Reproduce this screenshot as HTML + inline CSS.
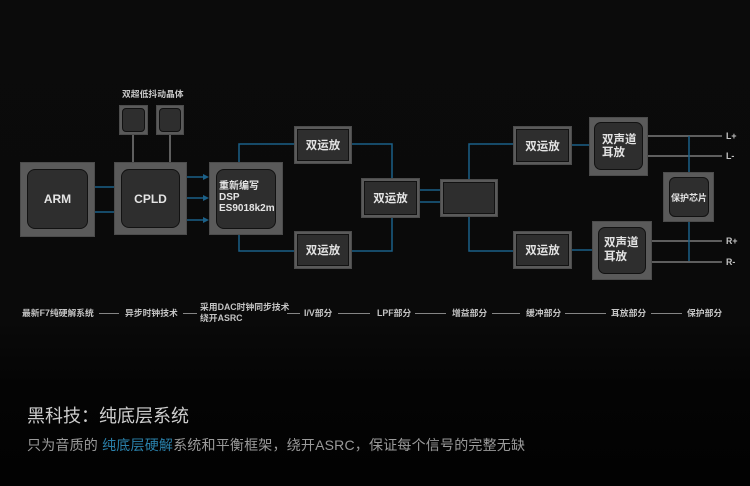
<!DOCTYPE html>
<html><head><meta charset="utf-8">
<style>
html,body{margin:0;padding:0;}
body{width:750px;height:486px;overflow:hidden;position:relative;
background:linear-gradient(#0b0b0b 0px,#0a0a0a 320px,#040404 385px,#020202 486px);
font-family:"Liberation Sans","Noto Sans CJK SC",sans-serif;}
.o{position:absolute;background:#5a5a5a;box-shadow:inset 0 0 0 1px #4c4c4c;}
.i{position:absolute;background:#2e2e2e;border:1px solid #121212;box-sizing:border-box;
display:flex;align-items:center;justify-content:center;color:#e4e4e4;font-weight:bold;white-space:nowrap;}
.t{position:absolute;white-space:nowrap;font-weight:bold;color:#c4c4c4;font-size:8.8px;line-height:12px;}
.w{color:#e4e4e4;}
svg{position:absolute;left:0;top:0;}
</style></head><body>

<svg width="750" height="486" viewBox="0 0 750 486">
<g stroke="#7a7a7a" stroke-width="1.5" fill="none">
<line x1="133" y1="135" x2="133" y2="162"/>
<line x1="170" y1="135" x2="170" y2="162"/>
<line x1="648" y1="136" x2="722" y2="136"/>
<line x1="648" y1="156" x2="722" y2="156"/>
<line x1="652" y1="241" x2="722" y2="241"/>
<line x1="652" y1="262" x2="722" y2="262"/>
</g>
<g stroke="#1b6088" stroke-width="1.5" fill="none">
<line x1="95" y1="187" x2="114" y2="187"/>
<line x1="95" y1="212" x2="114" y2="212"/>
<line x1="187" y1="177" x2="204" y2="177"/>
<line x1="187" y1="198" x2="204" y2="198"/>
<line x1="187" y1="220" x2="204" y2="220"/>
<polyline points="239,162 239,144 294,144"/>
<polyline points="239,235 239,251 294,251"/>
<polyline points="352,144 392,144 392,178"/>
<polyline points="352,251 392,251 392,218"/>
<line x1="420" y1="190" x2="440" y2="190"/>
<line x1="420" y1="202" x2="440" y2="202"/>
<polyline points="469,179 469,144 513,144"/>
<polyline points="469,217 469,251 513,251"/>
<line x1="572" y1="145" x2="589" y2="145"/>
<line x1="572" y1="250" x2="592" y2="250"/>
<line x1="689" y1="136" x2="689" y2="172"/>
<line x1="689" y1="222" x2="689" y2="261"/>
</g>
<g fill="#1b6088">
<polygon points="203,174 209,177 203,180"/>
<polygon points="203,195 209,198 203,201"/>
<polygon points="203,217 209,220 203,223"/>
</g>
<g stroke="#858585" stroke-width="1">
<line x1="99" y1="313.5" x2="119" y2="313.5"/>
<line x1="183" y1="313.5" x2="197" y2="313.5"/>
<line x1="287" y1="313.5" x2="300" y2="313.5"/>
<line x1="338" y1="313.5" x2="370" y2="313.5"/>
<line x1="415" y1="313.5" x2="446" y2="313.5"/>
<line x1="492" y1="313.5" x2="520" y2="313.5"/>
<line x1="565" y1="313.5" x2="606" y2="313.5"/>
<line x1="651" y1="313.5" x2="682" y2="313.5"/>
</g>
</svg>

<!-- crystal label -->
<div class="t" style="left:122px;top:88px;color:#c8c8c8;">双超低抖动晶体</div>
<!-- crystals -->
<div class="o" style="left:119px;top:105px;width:29px;height:30px;"></div>
<div class="i" style="left:122px;top:108px;width:23px;height:24px;border-radius:4px;border:1.5px solid #111;"></div>
<div class="o" style="left:156px;top:105px;width:28px;height:30px;"></div>
<div class="i" style="left:159px;top:108px;width:22px;height:24px;border-radius:4px;border:1.5px solid #111;"></div>

<!-- ARM -->
<div class="o" style="left:20px;top:162px;width:75px;height:75px;"></div>
<div class="i" style="left:27px;top:169px;width:61px;height:60px;border-radius:8px;font-size:12px;">ARM</div>
<!-- CPLD -->
<div class="o" style="left:114px;top:162px;width:73px;height:73px;"></div>
<div class="i" style="left:121px;top:169px;width:59px;height:59px;border-radius:8px;font-size:12px;">CPLD</div>
<!-- DSP -->
<div class="o" style="left:209px;top:162px;width:74px;height:73px;"></div>
<div class="i" style="left:216px;top:169px;width:60px;height:60px;border-radius:8px;"></div>
<div class="t w" style="left:219px;top:181px;font-size:10px;">重新编写</div>
<div class="t w" style="left:219px;top:192px;font-size:10px;">DSP</div>
<div class="t w" style="left:219px;top:203px;font-size:10px;">ES9018k2m</div>

<!-- op amps -->
<div class="o" style="left:294px;top:126px;width:58px;height:38px;"></div>
<div class="i" style="left:297px;top:129px;width:52px;height:32px;font-size:11.5px;">双运放</div>
<div class="o" style="left:294px;top:231px;width:58px;height:38px;"></div>
<div class="i" style="left:297px;top:234px;width:52px;height:32px;font-size:11.5px;">双运放</div>
<div class="o" style="left:361px;top:178px;width:59px;height:40px;"></div>
<div class="i" style="left:364px;top:181px;width:53px;height:34px;font-size:11.5px;">双运放</div>
<div class="o" style="left:440px;top:179px;width:58px;height:38px;"></div>
<div class="i" style="left:443px;top:182px;width:52px;height:32px;"></div>
<div class="o" style="left:513px;top:126px;width:59px;height:39px;"></div>
<div class="i" style="left:516px;top:129px;width:53px;height:33px;font-size:11.5px;">双运放</div>
<div class="o" style="left:513px;top:231px;width:59px;height:38px;"></div>
<div class="i" style="left:516px;top:234px;width:53px;height:32px;font-size:11.5px;">双运放</div>

<!-- headphone amps -->
<div class="o" style="left:589px;top:117px;width:59px;height:59px;"></div>
<div class="i" style="left:594px;top:122px;width:49px;height:48px;border-radius:7px;"></div>
<div class="t w" style="left:602px;top:133px;font-size:11.5px;line-height:14px;">双声道</div>
<div class="t w" style="left:602px;top:146px;font-size:11.5px;line-height:14px;">耳放</div>
<div class="o" style="left:592px;top:221px;width:60px;height:59px;"></div>
<div class="i" style="left:598px;top:227px;width:48px;height:47px;border-radius:7px;"></div>
<div class="t w" style="left:604px;top:236px;font-size:11.5px;line-height:14px;">双声道</div>
<div class="t w" style="left:604px;top:250px;font-size:11.5px;line-height:14px;">耳放</div>

<!-- protection -->
<div class="o" style="left:663px;top:172px;width:51px;height:50px;"></div>
<div class="i" style="left:669px;top:177px;width:40px;height:40px;border-radius:6px;font-size:9px;">保护芯片</div>

<div class="t" style="left:726px;top:130px;">L+</div>
<div class="t" style="left:726px;top:150px;">L-</div>
<div class="t" style="left:726px;top:235px;">R+</div>
<div class="t" style="left:726px;top:256px;">R-</div>

<!-- bottom row labels -->
<div class="t" style="left:22px;top:307px;">最新F7纯硬解系统</div>
<div class="t" style="left:125px;top:307px;">异步时钟技术</div>
<div class="t" style="left:200px;top:301px;">采用DAC时钟同步技术</div>
<div class="t" style="left:200px;top:312px;">绕开ASRC</div>
<div class="t" style="left:304px;top:307px;">I/V部分</div>
<div class="t" style="left:377px;top:307px;">LPF部分</div>
<div class="t" style="left:452px;top:307px;">增益部分</div>
<div class="t" style="left:526px;top:307px;">缓冲部分</div>
<div class="t" style="left:611px;top:307px;">耳放部分</div>
<div class="t" style="left:687px;top:307px;">保护部分</div>

<!-- bottom text -->
<div style="position:absolute;left:27px;top:404px;font-size:18px;line-height:24px;color:#cdcdcd;white-space:nowrap;">黑科技：纯底层系统</div>
<div style="position:absolute;left:27px;top:435px;font-size:14px;line-height:20px;color:#9a9a9a;white-space:nowrap;letter-spacing:0.2px;">只为音质的 <span style="color:#2a80aa;">纯底层硬解</span>系统和平衡框架，绕开ASRC，保证每个信号的完整无缺</div>

</body></html>
